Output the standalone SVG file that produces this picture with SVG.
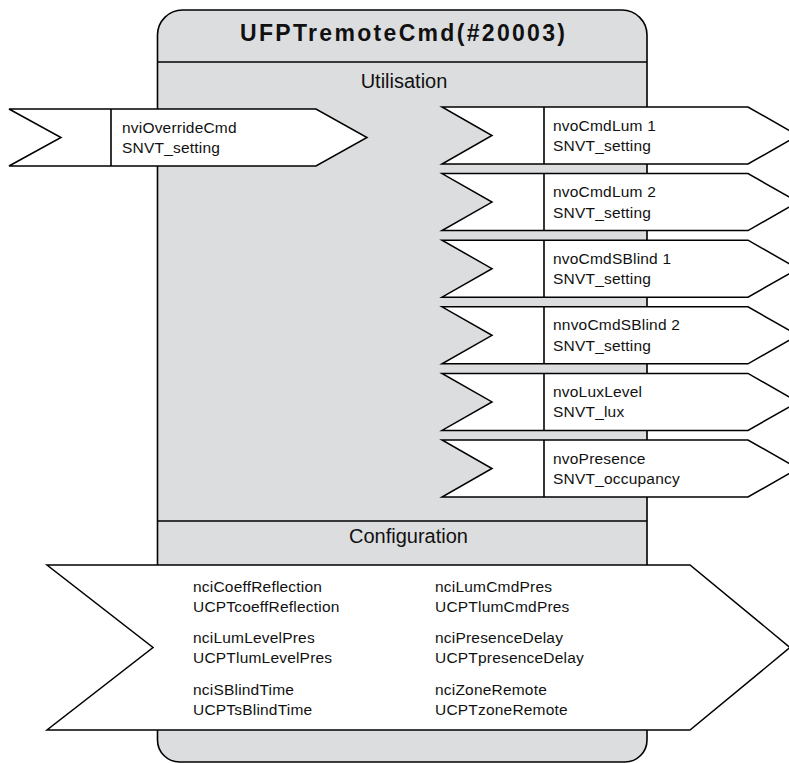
<svg xmlns="http://www.w3.org/2000/svg" width="789" height="763" viewBox="0 0 789 763">
  <style>
    .box { fill: #dcdddf; stroke: #000; stroke-width: 1.6; }
    .sep { stroke: #000; stroke-width: 1.6; fill: none; }
    .port { fill: #fff; stroke: #000; stroke-width: 1.5; stroke-linejoin: miter; }
    .t { font-family: "Liberation Sans", Arial, sans-serif; font-size: 15.5px; letter-spacing: 0.2px; fill: #111; }
    .sec { font-family: "Liberation Sans", Arial, sans-serif; font-size: 20px; fill: #111; text-anchor: middle; }
    .title { font-family: "Liberation Sans", Arial, sans-serif; font-size: 23px; font-weight: bold; fill: #111; text-anchor: middle; }
  </style>

  <!-- functional block body -->
  <g id="block">
    <path class="box" d="M157.5,35 A25,25 0 0 1 182.5,10 L622,10 A25,25 0 0 1 647,35 L647,740 A22,22 0 0 1 625,762 L179.5,762 A22,22 0 0 1 157.5,740 Z"/>
    <line class="sep" x1="157.5" y1="62" x2="647" y2="62"/>
    <line class="sep" x1="157.5" y1="521" x2="647" y2="521"/>
    <text class="title" x="402.5" y="41" textLength="325" lengthAdjust="spacing">UFPTremoteCmd(#20003)</text>
    <text class="sec" x="404" y="88">Utilisation</text>
    <text class="sec" x="408.5" y="543">Configuration</text>
  </g>

  <!-- input network variable -->
  <g id="nviOverrideCmd">
    <polygon class="port" points="9,109 316,109 367,137.5 316,166 9,166 61,137.5"/>
    <line class="sep" x1="111" y1="109" x2="111" y2="166" stroke-width="1.5"/>
    <text class="t" x="122" y="133">nviOverrideCmd</text>
    <text class="t" x="122" y="153">SNVT_setting</text>
  </g>

  <!-- output network variables -->
  <g id="nvoCmdLum1" transform="translate(0,107)">
    <polygon class="port" points="442,0 748,0 798,28.5 748,57 442,57 492,28.5"/>
    <line class="sep" x1="544" y1="0" x2="544" y2="57" stroke-width="1.5"/>
    <text class="t" x="553" y="23.5">nvoCmdLum 1</text>
    <text class="t" x="553" y="44">SNVT_setting</text>
  </g>
  <g id="nvoCmdLum2" transform="translate(0,173.6)">
    <polygon class="port" points="442,0 748,0 798,28.5 748,57 442,57 492,28.5"/>
    <line class="sep" x1="544" y1="0" x2="544" y2="57" stroke-width="1.5"/>
    <text class="t" x="553" y="23.5">nvoCmdLum 2</text>
    <text class="t" x="553" y="44">SNVT_setting</text>
  </g>
  <g id="nvoCmdSBlind1" transform="translate(0,240.2)">
    <polygon class="port" points="442,0 748,0 798,28.5 748,57 442,57 492,28.5"/>
    <line class="sep" x1="544" y1="0" x2="544" y2="57" stroke-width="1.5"/>
    <text class="t" x="553" y="23.5">nvoCmdSBlind 1</text>
    <text class="t" x="553" y="44">SNVT_setting</text>
  </g>
  <g id="nnvoCmdSBlind2" transform="translate(0,306.8)">
    <polygon class="port" points="442,0 748,0 798,28.5 748,57 442,57 492,28.5"/>
    <line class="sep" x1="544" y1="0" x2="544" y2="57" stroke-width="1.5"/>
    <text class="t" x="553" y="23.5">nnvoCmdSBlind 2</text>
    <text class="t" x="553" y="44">SNVT_setting</text>
  </g>
  <g id="nvoLuxLevel" transform="translate(0,373.4)">
    <polygon class="port" points="442,0 748,0 798,28.5 748,57 442,57 492,28.5"/>
    <line class="sep" x1="544" y1="0" x2="544" y2="57" stroke-width="1.5"/>
    <text class="t" x="553" y="23.5">nvoLuxLevel</text>
    <text class="t" x="553" y="44">SNVT_lux</text>
  </g>
  <g id="nvoPresence" transform="translate(0,440)">
    <polygon class="port" points="442,0 748,0 798,28.5 748,57 442,57 492,28.5"/>
    <line class="sep" x1="544" y1="0" x2="544" y2="57" stroke-width="1.5"/>
    <text class="t" x="553" y="23.5">nvoPresence</text>
    <text class="t" x="553" y="44">SNVT_occupancy</text>
  </g>

  <!-- configuration properties -->
  <g id="config">
    <polygon class="port" points="47,565 690,565 790,647.5 690,730 47,730 153,647.5"/>
    <text class="t" x="193" y="592">nciCoeffReflection</text>
    <text class="t" x="193" y="612">UCPTcoeffReflection</text>
    <text class="t" x="193" y="643">nciLumLevelPres</text>
    <text class="t" x="193" y="663">UCPTlumLevelPres</text>
    <text class="t" x="193" y="695">nciSBlindTime</text>
    <text class="t" x="193" y="715">UCPTsBlindTime</text>
    <text class="t" x="435" y="592">nciLumCmdPres</text>
    <text class="t" x="435" y="612">UCPTlumCmdPres</text>
    <text class="t" x="435" y="643">nciPresenceDelay</text>
    <text class="t" x="435" y="663">UCPTpresenceDelay</text>
    <text class="t" x="435" y="695">nciZoneRemote</text>
    <text class="t" x="435" y="715">UCPTzoneRemote</text>
  </g>

  <!-- no connectors in this block view -->
  <g id="connectors"/>
</svg>
